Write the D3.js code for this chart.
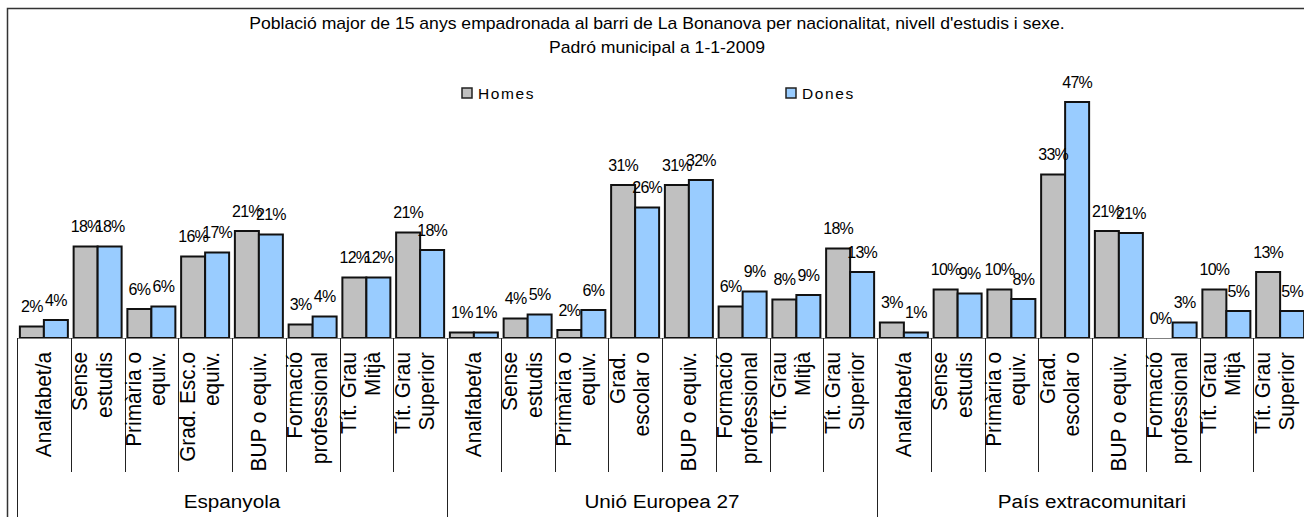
<!DOCTYPE html>
<html>
<head>
<meta charset="utf-8">
<script src="https://cdn.jsdelivr.net/npm/d3@7"></script>
<style>
  body { margin: 0; background: #fff; }
  svg { display: block; font-family: Arial, "Liberation Sans", sans-serif; }
</style>
</head>
<body>
<div id="chart"></div>
<script>
'use strict';

var titleLines = [
  'Població major de 15 anys empadronada al barri de La Bonanova per nacionalitat, nivell d\'estudis i sexe.',
  'Padró municipal a 1-1-2009'
];
var series = ['Homes', 'Dones'];
var groups = ['Espanyola', 'Unió Europea 27', 'País extracomunitari'];

// tick labels, already wrapped the way the original shows them
var catsEspanyola = [['Analfabet/a'], ['Sense', 'estudis'], ['Primària o', 'equiv.'], ['Grad. Esc.o', 'equiv.'],
  ['BUP o equiv.'], ['Formació', 'professional'], ['Tít. Grau', 'Mitjà'], ['Tít. Grau', 'Superior']];
var catsAltres = [['Analfabet/a'], ['Sense', 'estudis'], ['Primària o', 'equiv.'], ['Grad.', 'escolar o'],
  ['BUP o equiv.'], ['Formació', 'professional'], ['Tít. Grau', 'Mitjà'], ['Tít. Grau', 'Superior']];

// percentages, one value per category, group after group
var homes = [2.3, 18.3, 5.8, 16.3, 21.4, 2.7, 12.1, 21.1,
             1.1, 3.9, 1.6, 30.6, 30.6, 6.3, 7.7, 17.9,
             3.1, 9.7, 9.7, 32.7, 21.4, 0, 9.7, 13.2];
var dones = [3.6, 18.3, 6.3, 17.1, 20.7, 4.3, 12.1, 17.6,
             1.1, 4.7, 5.6, 26.1, 31.6, 9.3, 8.6, 13.2,
             1.1, 8.9, 7.8, 47.2, 21.0, 3.1, 5.4, 5.4];

var colors = {Homes: '#c0c0c0', Dones: '#99ccff'};

var width = 1304;
var height = 517;
var plotLeft = 17;
var groupWidth = 430;
var baseY = 338;

var svg = d3.select('#chart').append('svg')
    .attr('width', width)
    .attr('height', height);

// chart frame (right and bottom edges fall outside the picture)
svg.append('path')
    .attr('d', 'M7.5,' + height + 'V8.5H' + width)
    .attr('fill', 'none')
    .attr('stroke', '#333')
    .attr('stroke-width', 1.5);

svg.selectAll('text.title')
    .data(titleLines)
    .enter()
    .append('text')
      .attr('class', 'title')
      .attr('transform', function(d, i) { return 'translate(657,' + (29 + i * 24) + ') scale(1.1,1)'; })
      .attr('text-anchor', 'middle')
      .attr('font-size', 16)
      .attr('fill', '#000')
      .text(function(d) { return d; });

// legend
var legendX = d3.scaleOrdinal().domain(series).range([462, 786]);
var legend = svg.selectAll('g.legend')
    .data(series)
    .enter()
    .append('g')
      .attr('class', 'legend')
      .attr('transform', function(d) { return 'translate(' + legendX(d) + ',88)'; });
legend.append('rect')
    .attr('width', 10)
    .attr('height', 10)
    .attr('fill', function(d) { return colors[d]; })
    .attr('stroke', '#222')
    .attr('stroke-width', 1.5);
legend.append('text')
    .attr('x', 16)
    .attr('y', 10.5)
    .attr('font-size', 15.5)
    .attr('letter-spacing', 1.6)
    .text(function(d) { return d; });

// scales
var x0 = d3.scaleBand()
    .domain(groups)
    .range([plotLeft, plotLeft + groupWidth * groups.length]);
var x1 = d3.scaleBand()
    .domain(d3.range(8))
    .range([0, groupWidth]);
var x2 = d3.scaleBand()
    .domain(series)
    .range([0, x1.bandwidth()])
    .paddingOuter(0.12);
var y = d3.scaleLinear()
    .domain([0, 50])
    .range([baseY, baseY - 250]);

var cats = [];
groups.forEach(function(g, gi) {
  var labels = gi === 0 ? catsEspanyola : catsAltres;
  labels.forEach(function(lines, i) {
    var k = gi * 8 + i;
    cats.push({group: g, idx: i, lines: lines, values: {Homes: homes[k], Dones: dones[k]}});
  });
});

function catX(d) { return x0(d.group) + x1(d.idx); }

var bars = [];
cats.forEach(function(c) {
  series.forEach(function(s) {
    bars.push({cat: c, sex: s, val: c.values[s]});
  });
});

svg.append('g').selectAll('rect')
    .data(bars)
    .enter()
    .append('rect')
      .attr('x', function(d) { return catX(d.cat) + x2(d.sex); })
      .attr('y', function(d) { return y(d.val); })
      .attr('width', x2.bandwidth())
      .attr('height', function(d) { return y(0) - y(d.val); })
      .attr('fill', function(d) { return colors[d.sex]; })
      .attr('stroke', '#111')
      .attr('stroke-width', 2);

svg.append('g').selectAll('text')
    .data(bars)
    .enter()
    .append('text')
      .attr('x', function(d) { return catX(d.cat) + x2(d.sex) + x2.bandwidth() / 2; })
      .attr('y', function(d) { return y(d.val) - 14.5; })
      .attr('text-anchor', 'middle')
      .attr('font-size', 16)
      .attr('letter-spacing', -0.8)
      .attr('fill', '#000')
      .text(function(d) { return Math.round(d.val) + '%'; });

// category axis
svg.append('line')
    .attr('x1', plotLeft)
    .attr('x2', width)
    .attr('y1', baseY + 0.5)
    .attr('y2', baseY + 0.5)
    .attr('stroke', '#808080');

var ticks = d3.range(groups.length * 8 + 1);
svg.append('g').selectAll('line')
    .data(ticks)
    .enter()
    .append('line')
      .attr('x1', function(i) { return Math.round(plotLeft + i * x1.step()) + 0.5; })
      .attr('x2', function(i) { return Math.round(plotLeft + i * x1.step()) + 0.5; })
      .attr('y1', baseY)
      .attr('y2', function(i) { return i % 8 === 0 ? height : 472; })
      .attr('stroke', '#222')
      .attr('stroke-width', 1);

var tickLabels = svg.append('g').selectAll('g')
    .data(cats)
    .enter()
    .append('g');

tickLabels.selectAll('text')
    .data(function(d) {
      var cx = catX(d) + x1.bandwidth() / 2;
      if (d.lines.length === 1) {
        return [{text: d.lines[0], x: cx + 7}];
      }
      return d.lines.map(function(t, i) { return {text: t, x: cx - 10.5 + i * 24.5}; });
    })
    .enter()
    .append('text')
      .attr('transform', function(d) { return 'translate(' + d.x + ',352) scale(1.1,1) rotate(-90)'; })
      .attr('text-anchor', 'end')
      .attr('font-size', 20.8)
      .attr('fill', '#000')
      .text(function(d) { return d.text; });

svg.append('g').selectAll('text')
    .data(groups)
    .enter()
    .append('text')
      .attr('transform', function(d) { return 'translate(' + (x0(d) + x0.bandwidth() / 2) + ',508) scale(1.1,1)'; })
      .attr('text-anchor', 'middle')
      .attr('font-size', 18.8)
      .attr('fill', '#000')
      .text(function(d) { return d; });
</script>
</body>
</html>
